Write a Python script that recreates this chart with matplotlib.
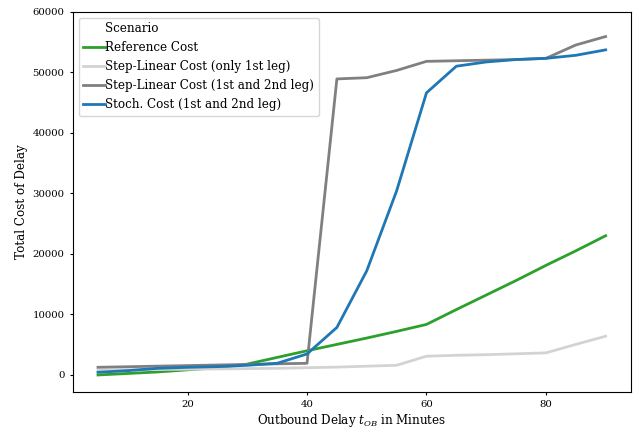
import matplotlib
matplotlib.use("Agg")
import matplotlib.pyplot as plt
from matplotlib.lines import Line2D

plt.rcParams['font.family'] = 'DejaVu Serif'
plt.rcParams['mathtext.fontset'] = 'dejavuserif'

delay = [5, 10, 15, 20, 25, 30, 35, 40, 45, 50, 55, 60, 65, 70, 75, 80, 85, 90]

reference_cost = [0, 250, 500, 850, 1200, 1800, 2900, 4000, 5050, 6100, 7200, 8350,
                  10800, 13200, 15600, 18100, 20500, 23000]
step_linear_1st = [800, 850, 900, 950, 1000, 1050, 1100, 1200, 1300, 1450, 1600, 3100,
                   3250, 3350, 3500, 3650, 5050, 6400]
step_linear_both = [1270, 1360, 1460, 1550, 1650, 1740, 1840, 1930, 48900, 49100, 50300,
                    51800, 51900, 52000, 52100, 52300, 54500, 55900]
stoch_cost = [440, 720, 1100, 1270, 1380, 1600, 1930, 3470, 7850, 17200, 30400, 46600,
              51000, 51700, 52100, 52300, 52800, 53700]

series = [
    ("Reference Cost", reference_cost, "#2ca02c"),
    ("Step-Linear Cost (only 1st leg)", step_linear_1st, "lightgray"),
    ("Step-Linear Cost (1st and 2nd leg)", step_linear_both, "gray"),
    ("Stoch. Cost (1st and 2nd leg)", stoch_cost, "#1f77b4"),
]

fs = 8.6
fig = plt.figure(figsize=(6.37, 4.34), dpi=100)
ax = fig.add_axes([0.114, 0.0975, 0.8766, 0.8755])

handles = [Line2D([], [], color="none", label="Scenario")]
for name, vals, col in series:
    h, = ax.plot(delay, vals, color=col, lw=2, label=name)
    handles.append(h)

ax.set_ylim(-2760, 60000)
ax.set_xlim(0.75, 94.25)
ax.set_xticks([20, 40, 60, 80])
ax.tick_params(labelsize=7.3, length=2.5, pad=3.5)
ax.set_xlabel("Outbound Delay $t_{OB}$ in Minutes", fontsize=fs, labelpad=2.5)
ax.set_ylabel("Total Cost of Delay", fontsize=fs, labelpad=3)

ax.legend(handles=handles, loc="upper left", fontsize=fs, handlelength=1.8,
          handletextpad=0.0)

fig.savefig("out.png", dpi=100)
